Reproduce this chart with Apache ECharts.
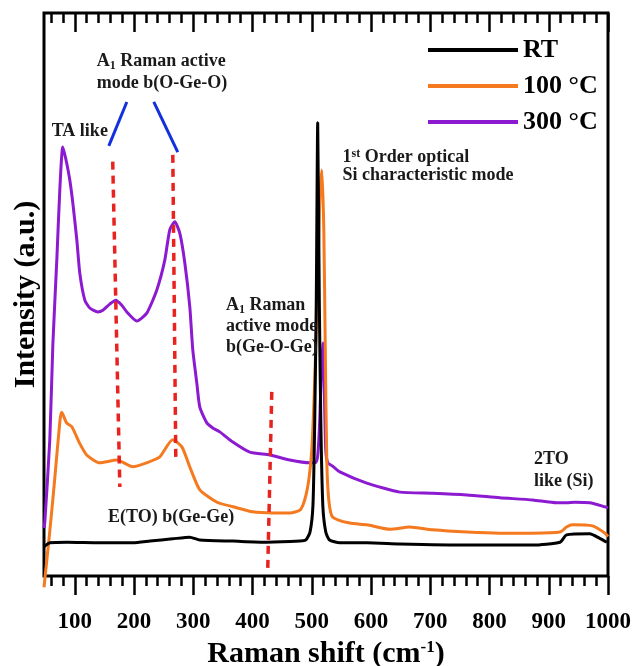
<!DOCTYPE html>
<html>
<head>
<meta charset="utf-8">
<script src="https://cdn.jsdelivr.net/npm/echarts@6/dist/echarts.min.js"></script>
<style>
  html, body { margin: 0; padding: 0; background: #fff; }
  #chart { width: 636px; height: 666px; }
</style>
</head>
<body>
<div id="chart"></div>
<script>
// Raman spectra (x in cm-1, intensity in arbitrary units 0..100)
const shiftRT = [48, 58, 87, 142, 198, 227, 265, 294, 311, 367, 424, 480, 490, 497, 502, 505, 507.6, 510, 512.7, 515.2, 518.6, 523.6, 530, 547, 593, 648, 762, 873, 919, 930, 969, 986, 998];
const valueRT = [5.2, 5.9, 6.0, 5.9, 5.9, 6.2, 6.6, 6.9, 6.4, 6.2, 6.0, 6.2, 6.4, 7.8, 12.6, 27.7, 49, 80.5, 49, 27.7, 12.6, 7.8, 6.4, 5.9, 5.9, 5.7, 5.5, 5.5, 6.0, 7.3, 7.5, 6.7, 6.0];

const shift100 = [48, 58, 66, 75, 78, 86, 95, 108, 120, 142, 171, 198, 221, 243, 265, 281, 294, 311, 340, 367, 400, 434, 463, 480, 488, 495, 500, 505, 510, 513.5, 517, 520.3, 522.8, 525.3, 528.7, 535, 564, 593, 632, 665, 704, 762, 817, 873, 919, 930, 940, 974, 995, 1000];
const value100 = [-2.0, 8.2, 17.1, 27.7, 29.1, 27.2, 26.5, 23.6, 21.5, 20.1, 20.6, 19.4, 20.1, 21.1, 24.2, 22.9, 19.4, 15.3, 13.1, 12.3, 11.4, 11.2, 11.2, 11.7, 13.5, 17.1, 22.4, 34.8, 52.6, 66.8, 72.1, 61.5, 40.1, 20.6, 13.5, 10.5, 9.4, 9.1, 8.3, 8.7, 8.2, 7.8, 7.6, 7.6, 7.8, 8.7, 9.1, 8.9, 7.6, 7.0];

const shift300 = [48, 49.4, 57.8, 62.9, 69.6, 74.7, 79.7, 86, 91.6, 96.6, 103.4, 108.4, 116.9, 125.3, 138.8, 147.3, 159, 169.2, 179.3, 187.8, 204.6, 221.5, 238.4, 251.9, 260.3, 268.8, 277.2, 285.7, 294.1, 299.2, 305.9, 311, 322.8, 332.9, 344.7, 366.7, 395.4, 429.1, 462.9, 496.6, 506.8, 510.1, 513.5, 516, 518.6, 521.1, 523.6, 527, 535.4, 547.3, 592.8, 648.5, 704.2, 761.6, 817.3, 873, 913.5, 930.4, 943.9, 969.2, 994.5, 1000];
const value300 = [8.5, 9.6, 24.2, 41.0, 56.1, 68.6, 76.2, 73.5, 70.3, 66.3, 59.7, 53.8, 49.0, 47.6, 46.9, 47.2, 48.3, 49.0, 48.1, 46.9, 45.3, 46.7, 50.8, 56.1, 61.5, 62.9, 60.9, 55.6, 47.8, 40.1, 34.3, 30.0, 27.2, 26.3, 25.6, 23.8, 22.0, 21.5, 20.6, 20.1, 20.2, 21.5, 27.7, 36.6, 41.4, 33.0, 22.4, 20.1, 19.5, 18.5, 16.5, 14.9, 14.7, 14.4, 13.9, 13.5, 13.0, 13.0, 13.1, 13.0, 12.3, 12.1];

const seriesNames = ['RT', '100 °C', '300 °C'];
const seriesColors = ['#000000', '#f4791f', '#8c1ad0'];

const majorTicks = [100, 200, 300, 400, 500, 600, 700, 800, 900, 1000];
const minorTicks = [];
for (let t = 60; t < 1000; t += 20) {
    if (t % 100 !== 0) minorTicks.push(t);
}

// mode markers: red dashed guides and blue pointers [x1, y1, x2, y2]
const redGuides = [
    [164, 73.6, 176, 15.8],
    [265.4, 74.8, 270.5, 20.6],
    [432.5, 32.7, 425.7, 1.4]
];
const bluePointers = [
    [157.4, 76.4, 187.8, 84.2],
    [233.3, 84.2, 273.8, 75.3]
];

// annotations
const noteTexts = [
    'TA like',
    'A{sub|1} Raman active\nmode b(O-Ge-O)',
    'A{sub|1} Raman\nactive mode\nb(Ge-O-Ge)',
    '1{sup|st} Order optical\nSi characteristic mode',
    'E(TO) b(Ge-Ge)',
    '2TO\nlike (Si)'
];
const noteShift = [61, 137, 355, 552, 156, 875];
const noteLevel = [78.9, 89.5, 44.4, 72.8, 10.5, 18.7];
const noteLineHeight = [20, 22, 21, 18, 20, 22];

const serif = '"Liberation Serif", "DejaVu Serif", serif';

function pairs(xs, ys) {
    return xs.map(function (x, i) { return [x, ys[i]]; });
}

const myChart = echarts.init(document.getElementById('chart'));

function tickAxis(position, values, length, inside, withLabel) {
    return {
        type: 'value',
        position: position,
        min: 48,
        max: 1000,
        axisLine: {show: false},
        splitLine: {show: false},
        axisTick: {
            show: true,
            inside: inside,
            length: length,
            customValues: values,
            lineStyle: {color: '#000', width: 2.5}
        },
        axisLabel: withLabel ? {
            show: true,
            customValues: majorTicks,
            formatter: function (v) { return String(v); },
            margin: 35,
            fontSize: 23,
            fontWeight: 'bold',
            fontFamily: serif,
            color: '#000'
        } : {show: false}
    };
}

const bottomAxis = tickAxis('bottom', majorTicks, 19, false, true);
bottomAxis.name = 'Raman shift (cm{sup|-1})';
bottomAxis.nameLocation = 'middle';
bottomAxis.nameGap = 57;
bottomAxis.nameTextStyle = {
    fontSize: 30,
    fontWeight: 'bold',
    fontFamily: serif,
    color: '#000',
    rich: {
        sup: {fontSize: 17, fontWeight: 'bold', fontFamily: serif, color: '#000', verticalAlign: 'top', lineHeight: 14}
    }
};

const markLines = [];
redGuides.forEach(function (g) {
    markLines.push([
        {coord: [g[0], g[1]], lineStyle: {color: '#e8231f', width: 3.5, type: [8, 6]}},
        {coord: [g[2], g[3]]}
    ]);
});
bluePointers.forEach(function (b) {
    markLines.push([
        {coord: [b[0], b[1]], lineStyle: {color: '#1230dc', width: 3, type: 'solid'}},
        {coord: [b[2], b[3]]}
    ]);
});

const seriesData = [pairs(shiftRT, valueRT), pairs(shift100, value100), pairs(shift300, value300)];

myChart.setOption({
    animation: false,
    grid: {
        left: 44, right: 28, top: 13, bottom: 90,
        outerBoundsMode: 'none',
        containLabel: false,
        show: true, borderColor: '#000', borderWidth: 3, backgroundColor: 'transparent'
    },
    legend: {
        orient: 'vertical',
        left: 423,
        top: 30,
        icon: 'rect',
        itemWidth: 90,
        itemHeight: 4,
        itemGap: 6,
        data: seriesNames,
        textStyle: {fontSize: 26, fontWeight: 'bold', fontFamily: serif, color: '#000', lineHeight: 30}
    },
    xAxis: [
        bottomAxis,
        tickAxis('bottom', minorTicks, 10, false, false),
        tickAxis('top', majorTicks, 19, true, false),
        tickAxis('top', minorTicks, 10, true, false)
    ],
    yAxis: {
        type: 'value',
        min: 0,
        max: 100,
        axisLine: {show: false},
        axisTick: {show: false},
        axisLabel: {show: false},
        splitLine: {show: false},
        name: 'Intensity (a.u.)',
        nameLocation: 'middle',
        nameGap: 3,
        nameTextStyle: {fontSize: 30, fontWeight: 'bold', fontFamily: serif, color: '#000'}
    },
    series: seriesNames.map(function (name, i) {
        const s = {
            name: name,
            type: 'line',
            xAxisIndex: 0,
            data: seriesData[i],
            showSymbol: false,
            smooth: 0.2,
            clip: false,
            color: seriesColors[i],
            lineStyle: {width: 3, color: seriesColors[i]},
            z: 3 - i
        };
        if (i === 0) {
            s.markLine = {
                silent: true,
                symbol: ['none', 'none'],
                label: {show: false},
                emphasis: {disabled: true},
                data: markLines,
                z: 10
            };
        }
        return s;
    })
});

// place annotation texts from their data positions
const graphics = noteTexts.map(function (text, i) {
    const p = myChart.convertToPixel({xAxisIndex: 0, yAxisIndex: 0}, [noteShift[i], noteLevel[i]]);
    return {
        type: 'text',
        z: 20,
        style: {
            text: text,
            x: p[0],
            y: p[1],
            align: 'left',
            verticalAlign: 'middle',
            fontSize: 18,
            fontWeight: 'bold',
            fontFamily: serif,
            fill: '#1a1a1a',
            lineHeight: noteLineHeight[i],
            rich: {
                sub: {fontSize: 12, fontWeight: 'bold', fontFamily: serif, fill: '#1a1a1a', verticalAlign: 'bottom', lineHeight: 12},
                sup: {fontSize: 12, fontWeight: 'bold', fontFamily: serif, fill: '#1a1a1a', verticalAlign: 'top', lineHeight: 12}
            }
        }
    };
});
myChart.setOption({graphic: graphics});
</script>
</body>
</html>
